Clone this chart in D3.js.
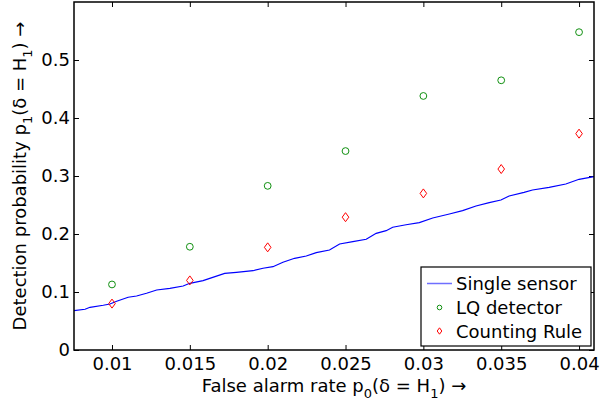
<!DOCTYPE html>
<html>
<head>
<meta charset="utf-8">
<script src="https://cdn.jsdelivr.net/npm/d3@7"></script>
<style>
  body { margin: 0; background: #fff; }
  text { font-family: "DejaVu Sans", sans-serif; fill: #000; }
</style>
</head>
<body>
<div id="chart"></div>
<script>
// data
const rates = [0.01, 0.015, 0.02, 0.025, 0.03, 0.035, 0.04];
const lqDetector = [0.113, 0.178, 0.283, 0.343, 0.438, 0.465, 0.548];
const countingRule = [0.080, 0.120, 0.177, 0.229, 0.270, 0.312, 0.373];

const sensorX = [0.00756, 0.00827, 0.00859, 0.00944, 0.00987, 0.01030, 0.01104, 0.01158, 0.01222,
  0.01287, 0.01372, 0.01457, 0.01500, 0.01585, 0.01628, 0.01724, 0.01799, 0.01906, 0.01970,
  0.02034, 0.02098, 0.02173, 0.02248, 0.02312, 0.02397, 0.02462, 0.02547, 0.02633, 0.02697,
  0.02761, 0.02803, 0.02889, 0.02974, 0.03060, 0.03167, 0.03252, 0.03338, 0.03423, 0.03498,
  0.03551, 0.03647, 0.03701, 0.03808, 0.03915, 0.04000, 0.04096];
const sensorY = [0.0678, 0.0702, 0.0736, 0.0771, 0.0793, 0.0840, 0.0909, 0.0931, 0.0978,
  0.1034, 0.1064, 0.1103, 0.1150, 0.1195, 0.1236, 0.1322, 0.1340, 0.1367, 0.1409,
  0.1436, 0.1512, 0.1581, 0.1621, 0.1678, 0.1724, 0.1828, 0.1867, 0.1909, 0.2012,
  0.2057, 0.2116, 0.2160, 0.2195, 0.2276, 0.2345, 0.2402, 0.2483, 0.2540, 0.2586,
  0.2655, 0.2719, 0.2759, 0.2805, 0.2862, 0.2943, 0.2988];

const xTicks = [0.01, 0.015, 0.02, 0.025, 0.03, 0.035, 0.04];
const yTicks = [0, 0.1, 0.2, 0.3, 0.4, 0.5];
const legendLabels = ['Single sensor', 'LQ detector', 'Counting Rule'];

const width = 600, height = 405;
const margin = { left: 74, right: 6, top: 2, bottom: 55 };
const fontSize = 18;

const svg = d3.select('#chart').append('svg')
  .attr('width', width).attr('height', height);

const x = d3.scaleLinear().domain([0.00756, 0.04096]).range([margin.left, width - margin.right]);
const y = d3.scaleLinear().domain([0, 0.6]).range([height - margin.bottom, margin.top]);

const fmt = d => String(+d.toFixed(3));
const tickLen = 5;

// inward ticks on all four sides
svg.append('g').attr('transform', `translate(0,${y(0)})`)
  .call(d3.axisBottom(x).tickValues(xTicks).tickSize(-tickLen).tickPadding(7).tickFormat(fmt));
svg.append('g').attr('transform', `translate(0,${y(0.6)})`)
  .call(d3.axisTop(x).tickValues(xTicks).tickSize(-tickLen).tickFormat(''));
svg.append('g').attr('transform', `translate(${x.range()[0]},0)`)
  .call(d3.axisLeft(y).tickValues(yTicks).tickSize(-tickLen).tickPadding(4).tickFormat(fmt));
svg.append('g').attr('transform', `translate(${x.range()[1]},0)`)
  .call(d3.axisRight(y).tickValues(yTicks).tickSize(-tickLen).tickFormat(''));

svg.selectAll('.domain').remove();
svg.selectAll('g').attr('font-family', null).attr('font-size', null);
svg.selectAll('.tick line').attr('stroke', '#000').attr('stroke-width', 1);
svg.selectAll('.tick text').attr('font-size', fontSize);

// single sensor curve
const sensor = sensorX.map((v, i) => [v, sensorY[i]]);
svg.append('path')
  .datum(sensor)
  .attr('fill', 'none')
  .attr('stroke', '#0000ff')
  .attr('stroke-width', 1.2)
  .attr('d', d3.line().x(d => x(d[0])).y(d => y(d[1])));

// LQ detector circles
svg.selectAll('.lq')
  .data(rates)
  .join('circle')
  .attr('class', 'lq')
  .attr('cx', d => x(d))
  .attr('cy', (d, i) => y(lqDetector[i]))
  .attr('r', 3.4)
  .attr('fill', 'none')
  .attr('stroke', '#109010')
  .attr('stroke-width', 1);

// counting rule diamonds
const diamond = (cx, cy, w, h) => `M${cx},${cy - h}L${cx + w},${cy}L${cx},${cy + h}L${cx - w},${cy}Z`;
svg.selectAll('.cr')
  .data(rates)
  .join('path')
  .attr('class', 'cr')
  .attr('d', (d, i) => diamond(x(d), y(countingRule[i]), 3.3, 4.5))
  .attr('fill', 'none')
  .attr('stroke', '#ff0000')
  .attr('stroke-width', 1);

// axes box
svg.append('rect')
  .attr('x', x.range()[0]).attr('y', y(0.6))
  .attr('width', x.range()[1] - x.range()[0])
  .attr('height', y(0) - y(0.6))
  .attr('fill', 'none').attr('stroke', '#000').attr('stroke-width', 1.5);

// legend
const lg = svg.append('g').attr('transform', 'translate(421,267)');
lg.append('rect').attr('width', 170).attr('height', 79)
  .attr('fill', '#fff').attr('stroke', '#000').attr('stroke-width', 1.2);
const rowY = [16.5, 40.5, 64];
lg.append('line').attr('x1', 6).attr('x2', 31).attr('y1', rowY[0]).attr('y2', rowY[0])
  .attr('stroke', '#6f6fff').attr('stroke-width', 1.5);
lg.append('circle').attr('cx', 18.5).attr('cy', rowY[1]).attr('r', 2.3)
  .attr('fill', 'none').attr('stroke', '#109010');
lg.append('path').attr('d', diamond(18.5, rowY[2], 2.3, 3.2))
  .attr('fill', 'none').attr('stroke', '#ff0000');
lg.selectAll('.lgtext')
  .data(legendLabels)
  .join('text')
  .attr('class', 'lgtext')
  .attr('x', 35)
  .attr('y', (d, i) => rowY[i] + 6.5)
  .attr('font-size', fontSize)
  .text(d => d);

// axis labels with subscripts
function subLabel(sel, parts) {
  let shift = 0;
  parts.forEach(p => {
    const ts = sel.append('tspan').text(p.t);
    if (p.sub) {
      ts.attr('font-size', 13).attr('dy', 6);
      shift = -6;
    } else if (shift) {
      ts.attr('dy', shift);
      shift = 0;
    }
  });
}

const xl = svg.append('text')
  .attr('x', 334)
  .attr('y', 392)
  .attr('text-anchor', 'middle')
  .attr('font-size', fontSize);
subLabel(xl, [{ t: 'False alarm rate p' }, { t: '0', sub: true }, { t: '(δ = H' }, { t: '1', sub: true }, { t: ') →' }]);

const yl = svg.append('text')
  .attr('transform', `translate(26,${(y(0) + y(0.6)) / 2}) rotate(-90)`)
  .attr('text-anchor', 'middle')
  .attr('font-size', fontSize);
subLabel(yl, [{ t: 'Detection probability p' }, { t: '1', sub: true }, { t: '(δ = H' }, { t: '1', sub: true }, { t: ') →' }]);
</script>
</body>
</html>
